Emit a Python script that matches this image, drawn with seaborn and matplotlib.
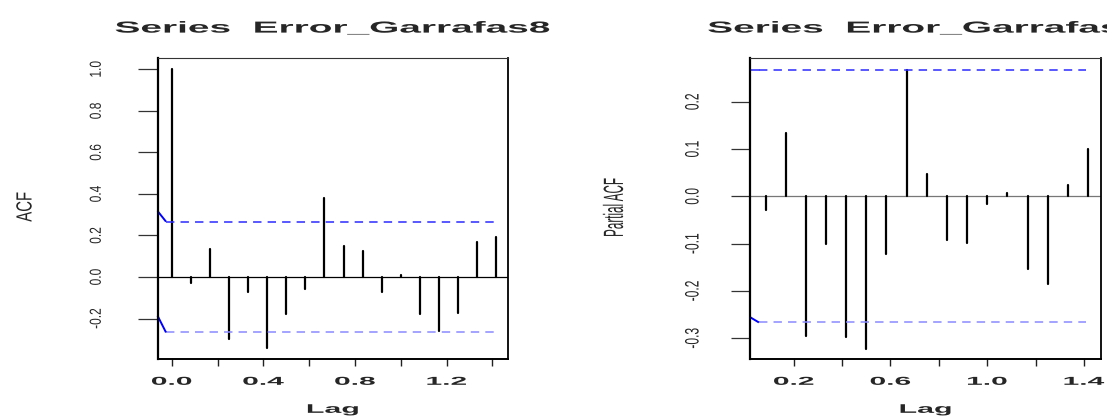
import numpy as np
import pandas as pd
import matplotlib
matplotlib.use("Agg")
import matplotlib.pyplot as plt
import seaborn as sns
from matplotlib.patheffects import AbstractPathEffect
from matplotlib.transforms import Affine2D

# ---------------------------------------------------------------- data
series_name = "Error_Garrafas8"
months_per_year = 12
n_obs = 54

acf_lag_months = [0, 1, 2, 3, 4, 5, 6, 7, 8, 9, 10, 11, 12, 13, 14, 15, 16, 17]
acf_values = [1.0, -0.028, 0.135, -0.296, -0.07, -0.343, -0.18, -0.057, 0.38,
              0.15, 0.127, -0.074, 0.008, -0.18, -0.262, -0.174, 0.17, 0.195]

pacf_lag_months = [1, 2, 3, 4, 5, 6, 7, 8, 9, 10, 11, 12, 13, 14, 15, 16, 17]
pacf_values = [-0.028, 0.134, -0.296, -0.1, -0.297, -0.323, -0.122, 0.266, 0.048,
               -0.093, -0.098, -0.016, 0.006, -0.154, -0.186, 0.023, 0.099]

acf_yticks = [-0.2, 0.0, 0.2, 0.4, 0.6, 0.8, 1.0]
acf_ytick_labels = ["-0.2", "0.0", "0.2", "0.4", "0.6", "0.8", "1.0"]
acf_xticks = [0.0, 0.2, 0.4, 0.6, 0.8, 1.0, 1.2, 1.4]
acf_xtick_labels = ["0.0", "", "0.4", "", "0.8", "", "1.2", ""]

pacf_yticks = [-0.3, -0.2, -0.1, 0.0, 0.1, 0.2]
pacf_ytick_labels = ["-0.3", "-0.2", "-0.1", "0.0", "0.1", "0.2"]
pacf_xticks = [0.2, 0.4, 0.6, 0.8, 1.0, 1.2, 1.4]
pacf_xtick_labels = ["0.2", "", "0.6", "", "1.0", "", "1.4"]

# values where the short solid blue leads into the bands start (upper, lower)
acf_band_leads = [0.318, -0.186]
pacf_band_leads = [None, -0.256]


# ---------------------------------------------------------------- helpers
class HStretch(AbstractPathEffect):
    """Scale glyph outlines along the text baseline about their centre."""

    def __init__(self, factor):
        super().__init__()
        self.factor = factor

    def draw_path(self, renderer, gc, tpath, affine, rgbFace=None):
        ext = tpath.get_extents()
        cx = 0.5 * (ext.x0 + ext.x1)
        squeeze = Affine2D().translate(-cx, 0).scale(self.factor, 1).translate(cx, 0)
        renderer.draw_path(gc, tpath, squeeze + affine, rgbFace)


def stem_frame(lag_months, values):
    rows = []
    for m, v in zip(lag_months, values):
        lag = m / months_per_year
        rows.append({"lag": lag, "value": 0.0, "stem": m})
        rows.append({"lag": lag, "value": v, "stem": m})
    return pd.DataFrame(rows)


sns.set_theme(style="white")
plt.rcParams["font.family"] = ["Liberation Sans", "DejaVu Sans"]

fig = plt.figure(figsize=(11.07, 4.17), dpi=100)
fig.patch.set_facecolor("white")

ci = 1.96 / np.sqrt(n_obs)


def draw_panel(ax, lag_months, values, xlim, ylim, xticks, xlabels, yticks, ylabels,
               ylabel, ylabel_pos, ylabel_size, ylabel_stretch,
               ytick_size, ytick_stretch, ytick_len, ytick_pad,
               band_start, band_leads, zero_color):
    df = stem_frame(lag_months, values)
    sns.lineplot(data=df, x="lag", y="value", units="stem", estimator=None,
                 sort=False, color="black", lw=1.6, ax=ax, legend=False)
    ax.axhline(0.0, color=zero_color, lw=0.9, zorder=1)

    band_end = lag_months[-1] / months_per_year - 0.008
    for sign, col, lead in zip([1, -1], ["#2a2aff", "#8a8aff"], band_leads):
        ax.plot([band_start, band_end], [sign * ci, sign * ci], color=col, lw=1.1,
                linestyle=(0, (5.5, 4.0)), zorder=2)
        if lead is not None:
            ax.plot([xlim[0], band_start], [lead, sign * ci], color="#0000ff",
                    lw=1.4, solid_capstyle="butt", zorder=2, clip_on=False)

    ax.set_xlim(*xlim)
    ax.set_ylim(*ylim)

    ax.set_xticks(xticks)
    ax.set_xticklabels(xlabels)
    ax.set_yticks(yticks)
    ax.set_yticklabels(ylabels)

    ax.tick_params(axis="x", length=5, width=1.0, color="#222222", pad=6.9,
                   labelsize=8.3, bottom=True, direction="out")
    ax.tick_params(axis="y", length=ytick_len, width=0.9, color="#333333",
                   pad=ytick_pad, labelsize=ytick_size, left=True,
                   direction="out", labelrotation=90)
    for lbl in ax.get_xticklabels():
        lbl.set_fontweight("bold")
        lbl.set_path_effects([HStretch(2.6)])
    for lbl in ax.get_yticklabels():
        lbl.set_va("center")
        lbl.set_path_effects([HStretch(ytick_stretch)])

    for side, lw, col in [("left", 1.6, "black"), ("right", 1.3, "black"),
                          ("top", 0.8, "#333333"), ("bottom", 1.4, "black")]:
        ax.spines[side].set_visible(True)
        ax.spines[side].set_linewidth(lw)
        ax.spines[side].set_color(col)

    ax.set_title("Series  " + series_name, fontsize=11.5, fontweight="bold",
                 pad=18.5, path_effects=[HStretch(2.43)])

    ax.set_xlabel("Lag", fontsize=9, fontweight="bold")
    ax.xaxis.label.set_path_effects([HStretch(2.43)])
    ax.xaxis.set_label_coords(0.5, -0.148)
    ax.xaxis.label.set_va("top")

    ax.set_ylabel(ylabel, fontsize=ylabel_size)
    ax.yaxis.label.set_path_effects([HStretch(ylabel_stretch)])
    ax.yaxis.set_label_coords(*ylabel_pos)
    ax.yaxis.label.set_va("center")
    ax.yaxis.label.set_ha("center")
    ax.grid(False)
    ax.set_facecolor("white")


ax1 = fig.add_axes([0.1423, 0.1384, 0.3168, 0.7218])
draw_panel(ax1, acf_lag_months, acf_values,
           xlim=(-0.062, 1.469), ylim=(-0.396, 1.053),
           xticks=acf_xticks, xlabels=acf_xtick_labels,
           yticks=acf_yticks, ylabels=acf_ytick_labels,
           ylabel="ACF", ylabel_pos=(-0.375, 0.507), ylabel_size=15.8,
           ylabel_stretch=0.68, ytick_size=11.5, ytick_stretch=0.75,
           ytick_len=14.4, ytick_pad=24.3, band_start=-0.025,
           band_leads=acf_band_leads, zero_color="black")

ax2 = fig.add_axes([0.6779, 0.1384, 0.3164, 0.7218])
draw_panel(ax2, pacf_lag_months, pacf_values,
           xlim=(0.021, 1.469), ylim=(-0.3446, 0.2918),
           xticks=pacf_xticks, xlabels=pacf_xtick_labels,
           yticks=pacf_yticks, ylabels=pacf_ytick_labels,
           ylabel="Partial ACF", ylabel_pos=(-0.384, 0.503), ylabel_size=20,
           ylabel_stretch=0.42, ytick_size=14, ytick_stretch=0.62,
           ytick_len=13.5, ytick_pad=21, band_start=0.056,
           band_leads=pacf_band_leads, zero_color="#777777")
# the upper PACF band runs from the frame edge
ax2.plot([0.021, 0.056], [ci, ci], color="#2a2aff", lw=1.1, zorder=2)

fig.savefig("out.png", dpi=100, facecolor="white")
